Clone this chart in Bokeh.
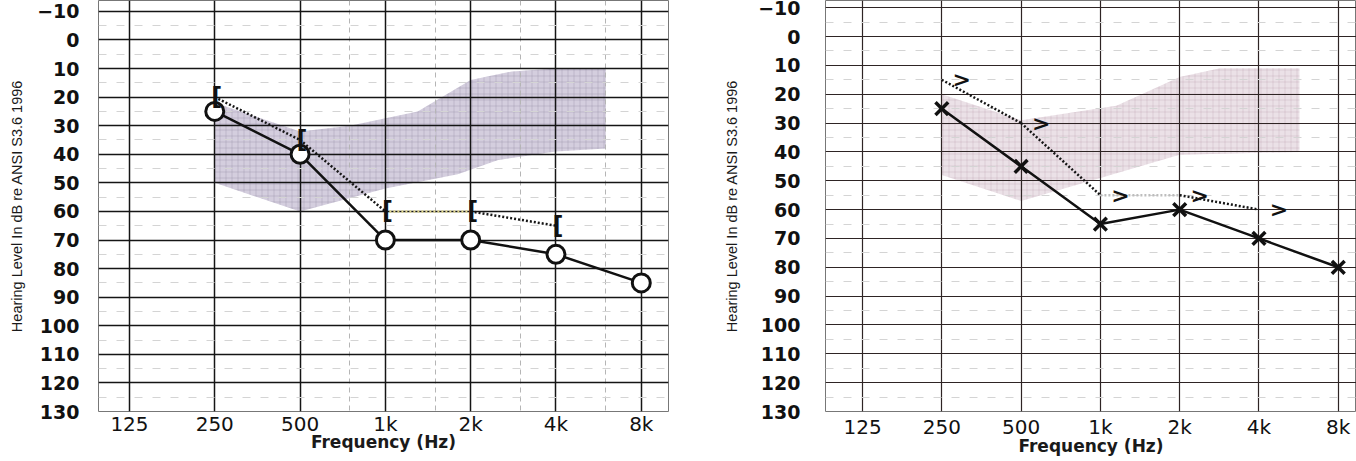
from bokeh.plotting import figure
from bokeh.layouts import row
from bokeh.models import FixedTicker, Range1d
from bokeh.core.properties import value
from bokeh.embed import file_html
from bokeh.resources import INLINE

# ---------------- data ----------------
tick_freqs = [125, 250, 500, 1000, 2000, 4000, 8000]
tick_labels = ["125", "250", "500", "1k", "2k", "4k", "8k"]
mid_freqs = [750, 1500, 3000, 6000]
db_ticks = list(range(-10, 131, 10))
db_minor = list(range(-5, 131, 10))

air_freqs = [250, 500, 1000, 2000, 4000, 8000]
bone_freqs = [250, 500, 1000, 2000, 4000]

right_ear_air = [25, 40, 70, 70, 75, 85]    # O
right_ear_bone = [20, 35, 60, 60, 65]       # [
left_ear_air = [25, 45, 65, 60, 70, 80]     # X
left_ear_bone = [15, 30, 55, 55, 60]        # >

band1_freq = [250, 500, 750, 1300, 2000, 2800, 4000, 6000, 6000, 4000, 2500, 1800, 1000, 500, 250]
band1_db = [22, 32, 30, 25, 14, 11, 10, 10, 38, 39, 42, 47, 52, 60, 50]
band2_freq = [250, 500, 1150, 2000, 2850, 5700, 5700, 2000, 920, 500, 250]
band2_db = [20, 29, 24, 14, 11, 11, 40, 41, 50, 57, 48]

Y_TITLE = "Hearing Level In dB re ANSI S3.6 1996"
X_TITLE = "Frequency (Hz)"


def make_panel(width, b_left, b_right, b_bottom, oct_lo, oct_hi, db_top,
               grid_color, grid_width, show_mid, lab_standoff, title_standoff,
               xlab_standoff, xtitle_standoff):
    p = figure(width=width, height=461, x_axis_type="log",
               x_range=Range1d(125 * 2 ** oct_lo, 125 * 2 ** oct_hi),
               y_range=Range1d(130, db_top),
               output_backend="svg", toolbar_location=None,
               min_border_left=b_left, min_border_right=b_right,
               min_border_top=0, min_border_bottom=b_bottom)
    p.background_fill_color = "white"
    p.border_fill_color = "white"
    p.outline_line_color = "#777777"
    p.outline_line_width = 1

    # grids
    p.xgrid.ticker = FixedTicker(ticks=tick_freqs, minor_ticks=mid_freqs if show_mid else [])
    p.xgrid.grid_line_color = grid_color
    p.xgrid.grid_line_width = grid_width
    p.xgrid.grid_line_alpha = 1
    if show_mid:
        p.xgrid.minor_grid_line_color = "#b5b5b5"
        p.xgrid.minor_grid_line_dash = "5 4"
        p.xgrid.minor_grid_line_width = 1
    p.ygrid.ticker = FixedTicker(ticks=db_ticks, minor_ticks=db_minor)
    p.ygrid.grid_line_color = grid_color
    p.ygrid.grid_line_width = grid_width
    p.ygrid.grid_line_alpha = 1
    p.ygrid.minor_grid_line_color = "#d4d4d4"
    p.ygrid.minor_grid_line_dash = "8 10"
    p.ygrid.minor_grid_line_width = 1

    # axes
    for ax in (p.xaxis[0], p.yaxis[0]):
        ax.axis_line_color = None
        ax.major_tick_line_color = None
        ax.minor_tick_line_color = None
        ax.major_label_text_color = "#111111"
    p.xaxis.ticker = FixedTicker(ticks=tick_freqs)
    p.xaxis.major_label_overrides = {f: l for f, l in zip(tick_freqs, tick_labels)}
    p.xaxis.major_label_text_font = "DejaVu Sans"
    p.xaxis.major_label_text_font_size = "20px"
    p.xaxis.major_label_standoff = xlab_standoff
    p.xaxis.axis_label = X_TITLE
    p.xaxis.axis_label_text_font = "DejaVu Sans"
    p.xaxis.axis_label_text_font_style = "bold"
    p.xaxis.axis_label_text_font_size = "17px"
    p.xaxis.axis_label_text_color = "#1a1a1a"
    p.xaxis.axis_label_standoff = xtitle_standoff

    p.yaxis.ticker = FixedTicker(ticks=db_ticks)
    p.yaxis.major_label_text_font = "DejaVu Sans"
    p.yaxis.major_label_text_font_style = "bold"
    p.yaxis.major_label_text_font_size = "19px"
    p.yaxis.major_label_standoff = lab_standoff
    p.yaxis.axis_label = Y_TITLE
    p.yaxis.axis_label_text_font = "Liberation Sans"
    p.yaxis.axis_label_text_font_style = "normal"
    p.yaxis.axis_label_text_font_size = "14.5px"
    p.yaxis.axis_label_text_color = "#1a1a1a"
    p.yaxis.axis_label_standoff = title_standoff
    return p


# ---------------- left panel (right ear) ----------------
p1 = make_panel(675, 98, 7, 44, -0.363, 6.319, -13.8,
                "#151515", 1.5, True, 13, 9, -6, -7)
band = p1.patch(band1_freq, band1_db, fill_color="#c9c2d6", fill_alpha=0.8,
                line_color=None, hatch_pattern="+", hatch_color="#8a80a0",
                hatch_alpha=0.3, hatch_scale=6, hatch_weight=1)
band.level = "image"
seg_colors1 = ["#151515", "#151515", "#e0d690", "#151515"]
p1.segment(x0=bone_freqs[:-1], y0=right_ear_bone[:-1], x1=bone_freqs[1:], y1=right_ear_bone[1:],
           line_color=seg_colors1, line_width=2.5, line_dash="2 2")
p1.line(air_freqs, right_ear_air, line_color="#111111", line_width=2.5)
p1.scatter(air_freqs, right_ear_air, marker="circle", size=18, line_width=3,
           line_color="#111111", fill_color="white")
p1.text(x=bone_freqs, y=right_ear_bone, text=["["] * len(bone_freqs), x_offset=2,
        text_align="center", text_baseline="middle", text_font=value("DejaVu Sans"),
        text_font_style="bold", text_font_size="24px", text_color="#111111")

# ---------------- right panel (left ear) ----------------
p2 = make_panel(681, 150, 0, 50, -0.467, 6.23, -12.5,
                "#2e2424", 1.2, False, 19, 15, -3, -6)
band2 = p2.patch(band2_freq, band2_db, fill_color="#e6d9e1", fill_alpha=0.8,
                 line_color=None, hatch_pattern="+", hatch_color="#b59aad",
                 hatch_alpha=0.3, hatch_scale=6, hatch_weight=1)
band2.level = "image"
seg_colors2 = ["#151515", "#151515", "#bdbdbd", "#151515"]
p2.segment(x0=bone_freqs[:-1], y0=left_ear_bone[:-1], x1=bone_freqs[1:], y1=left_ear_bone[1:],
           line_color=seg_colors2, line_width=2.5, line_dash="2 2")
p2.line(air_freqs, left_ear_air, line_color="#111111", line_width=2.5)
p2.scatter(air_freqs, left_ear_air, marker="x", size=18, line_width=3.5,
           line_color="#111111")
p2.text(x=bone_freqs, y=left_ear_bone, text=[">"] * len(bone_freqs), x_offset=20,
        text_align="center", text_baseline="middle", text_font=value("DejaVu Sans"),
        text_font_style="bold", text_font_size="22px", text_color="#111111")

layout = row(p1, p2)
open("out.html", "w").write(file_html(layout, INLINE))
